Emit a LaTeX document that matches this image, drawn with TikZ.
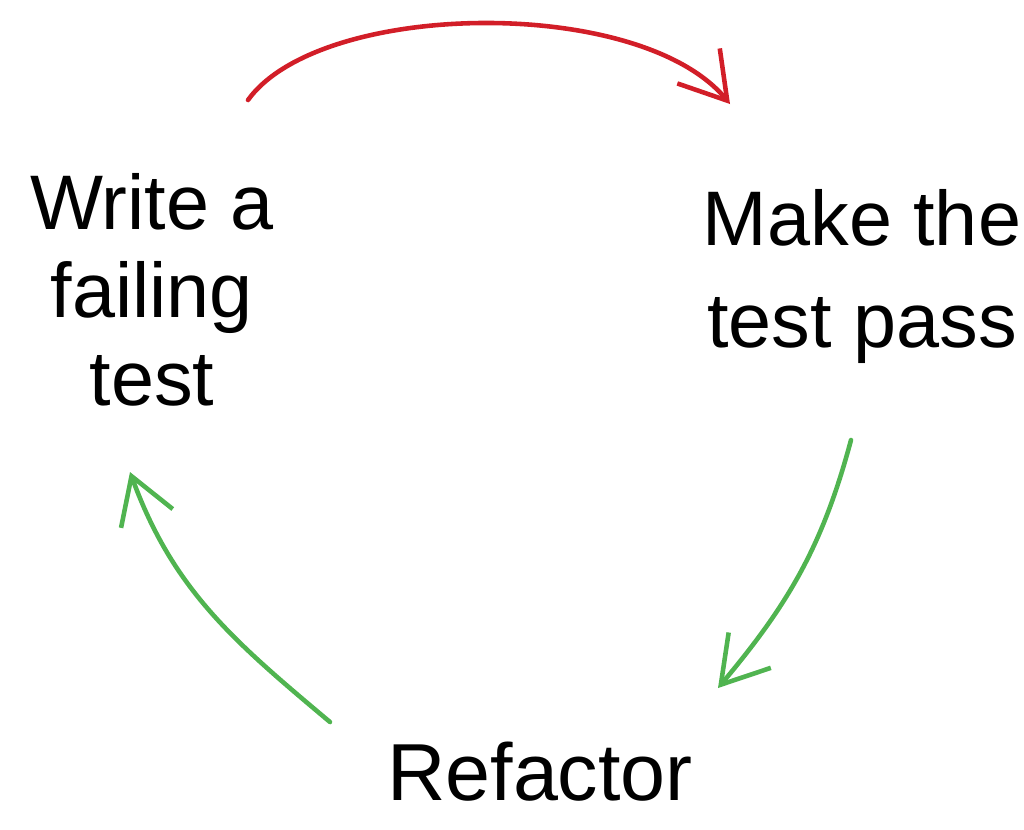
\documentclass[tikz,border=0pt]{standalone}
\usepackage{fontspec}
\setmainfont{Liberation Sans}
\usetikzlibrary{arrows.meta}
\definecolor{cycred}{RGB}{210,30,40}
\definecolor{cycgreen}{RGB}{80,180,80}
\tikzset{
  label/.style={inner sep=0pt, align=center, text=black},
  cyc/.style={line width=1.3pt, line cap=round, line join=round,
    -{Straight Barb[length=4.5mm,width=5.5mm,line width=1.3pt]}},
}
\begin{document}
\begin{tikzpicture}[x=0.01cm,y=-0.01cm]
\useasboundingbox (0,0) rectangle (1024,829);
\node[label, anchor=base, font=\fontsize{22}{25}\selectfont] (write) at (152,405) {Write a\\failing\\test};
\node[label, anchor=base, font=\fontsize{22}{29}\selectfont] (make) at (862,347) {Make the\\test pass};
\node[label, anchor=base, font=\fontsize{23}{28}\selectfont] (refactor) at (540,800) {Refactor};
\coordinate (r1) at (248,100);
\coordinate (r2) at (730,104);
\coordinate (g1) at (851,440);
\coordinate (g2) at (718,688);
\coordinate (h1) at (330,722);
\coordinate (h2) at (130,472);
\draw[cyc, draw=cycred] (r1) .. controls (320,0) and (640,-5) .. (r2);
\draw[cyc, draw=cycgreen] (g1) to[out=-105, in=50] (g2);
\draw[cyc, draw=cycgreen] (h1) to[out=140, in=-70] (h2);
\end{tikzpicture}
\end{document}
